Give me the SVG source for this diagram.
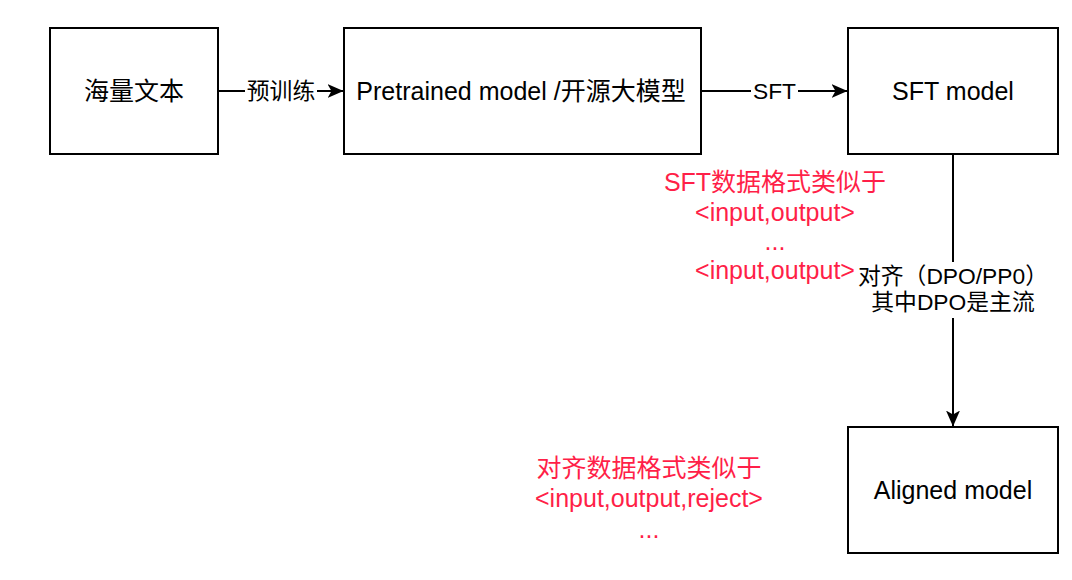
<svg xmlns="http://www.w3.org/2000/svg" width="1072" height="580" viewBox="0 0 1072 580">
<style>
.box{fill:#fff;stroke:#000;stroke-width:2}
.t{font-family:"Liberation Sans","Noto Sans CJK SC",sans-serif;text-anchor:middle;fill:#000}
.big{font-size:25px}
.lbl{font-size:22.8px}
.red{font-size:25px;fill:#FF1F48}
.edge{stroke:#000;stroke-width:2;fill:none}
.bg{fill:#fff}
</style>
<defs>
<marker id="arr" viewBox="0 0 16 14" refX="15.5" refY="7" markerWidth="16" markerHeight="14" markerUnits="userSpaceOnUse" orient="auto">
<path d="M0,0 L16,7 L0,14 L4,7 Z" fill="#000"/>
</marker>
</defs>
<rect width="1072" height="580" fill="#fff"/>
<g id="connectors">
<path class="edge" d="M218,91 L343,91" marker-end="url(#arr)"/>
<path class="edge" d="M701,91 L847,91" marker-end="url(#arr)"/>
<path class="edge" d="M953,154 L953,426" marker-end="url(#arr)"/>
<rect class="bg" x="245" y="77" width="72" height="28"/>
<text class="t lbl" x="281" y="99">预训练</text>
<rect class="bg" x="751" y="77" width="47" height="28"/>
<text class="t lbl" x="774.5" y="99">SFT</text>
<rect class="bg" x="857" y="262" width="188" height="56"/>
<text class="t lbl" x="953" y="284">对齐（DPO/PP0）</text>
<text class="t lbl" x="953" y="310">其中DPO是主流</text>
</g>
<g id="node-text">
<rect class="box" x="50" y="28" width="168" height="126"/>
<text class="t big" x="134" y="100">海量文本</text>
</g>
<g id="node-pretrained">
<rect class="box" x="344" y="28" width="357" height="126"/>
<text class="t big" x="521" y="100">Pretrained model /开源大模型</text>
</g>
<g id="node-sft">
<rect class="box" x="848" y="28" width="210" height="126"/>
<text class="t big" x="953" y="100">SFT model</text>
</g>
<g id="node-aligned">
<rect class="box" x="848" y="427" width="210" height="126"/>
<text class="t big" x="953" y="499">Aligned model</text>
</g>
<g id="note-sft">
<text class="t red" x="775" y="191">SFT数据格式类似于</text>
<text class="t red" x="775" y="221">&lt;input,output&gt;</text>
<text class="t red" x="775" y="250">...</text>
<text class="t red" x="775" y="279">&lt;input,output&gt;</text>
</g>
<g id="note-align">
<text class="t red" x="649" y="477">对齐数据格式类似于</text>
<text class="t red" x="649" y="507">&lt;input,output,reject&gt;</text>
<text class="t red" x="649" y="538">...</text>
</g>
</svg>
